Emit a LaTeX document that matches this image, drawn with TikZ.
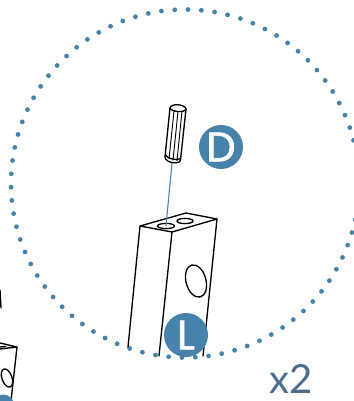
\documentclass[tikz,border=0pt]{standalone}
\usepackage{fontspec}
\setmainfont{Poppins}
\newfontfamily\badgefont[FakeBold=1.6]{Poppins}
\newfontfamily\qtyfont{Lato}
\definecolor{tealb}{HTML}{4682A9}
\definecolor{txtb}{HTML}{4A6D8E}
\tikzset{
  ink/.style={draw=black,line width=1pt,line join=round,line cap=round},
  thin ink/.style={draw=black,line width=0.7pt},
  badge/.style={circle,fill=tealb,text=white,minimum size=33pt,inner sep=0pt,font=\badgefont\fontsize{31}{31}\selectfont},
  dotmark/.style={fill=tealb}
}
\begin{document}
\begin{tikzpicture}[x=0.75pt,y=-0.75pt]
\useasboundingbox (0,0) rectangle (354,401);
% dotted circle
\foreach \a in {0,1,...,81}{
  \pgfmathsetmacro{\ang}{91+\a*4.39024}
  \fill[dotmark] ({185+174*cos(\ang)},{183.5+174*sin(\ang)}) circle[radius=1.8pt];
}
% block
\draw[ink] (140,226) -- (186,213) -- (217,219) -- (172,232) -- cycle;
\draw[ink] (140,226) -- (128,347);
\draw[ink] (172,232) -- (159,356);
\draw[ink] (217,219) -- (203,356);
\coordinate (holeA) at (166,226);
\draw[ink] (holeA) ellipse[x radius=8.5,y radius=2.6];
\draw[ink] (185,221) ellipse[x radius=8,y radius=2.6];
\draw[ink,rotate around={15:(196,281)}] (196,281) ellipse[x radius=10,y radius=16.5];
% pin
\coordinate (pinEnd) at (172,163);
\draw[tealb,line width=0.8pt] (pinEnd) -- (holeA);
\fill[white] (170,107) -- (186,109) -- (181,160) -- (165,158) -- cycle;
\draw[ink] (170,108) .. controls (171,103) and (185,104) .. (186,109);
\draw[ink] (170,108) .. controls (171,112) and (185,113) .. (186,109);
\draw[ink] (170,108) -- (165,157);
\draw[ink] (186,109) -- (180.5,160);
\draw[ink] (165,157) .. controls (165,163) and (180,165) .. (180.5,160);
\draw[ink] (166,155) .. controls (167,159) and (179,161) .. (180.5,158);
\draw[thin ink] (174,111) -- (169,159);
\draw[thin ink] (178,111.5) -- (173,160.5);
\draw[thin ink] (182,111) -- (177,161);
% badges
\node[badge] (D) at (221,147) {D};
\node[badge] (L) at (186,335) {L};
% second block, cut off by the edge
\draw[ink] (0,349) -- (17,347) -- (0,343);
\draw[ink] (0,347) -- (6,346.5);
\draw[ink] (17,347) -- (11,401);
\draw[ink] (0,290) -- (1,308);
\draw[ink,rotate around={20:(7,378)}] (7,378) ellipse[x radius=5,y radius=9.5];
\fill[tealb] (3,406) circle[radius=11.5];
\node[text=txtb,font=\qtyfont\fontsize{30}{30}\selectfont,inner sep=0pt] (qty) at (291.5,379) {x2};
\end{tikzpicture}
\end{document}
